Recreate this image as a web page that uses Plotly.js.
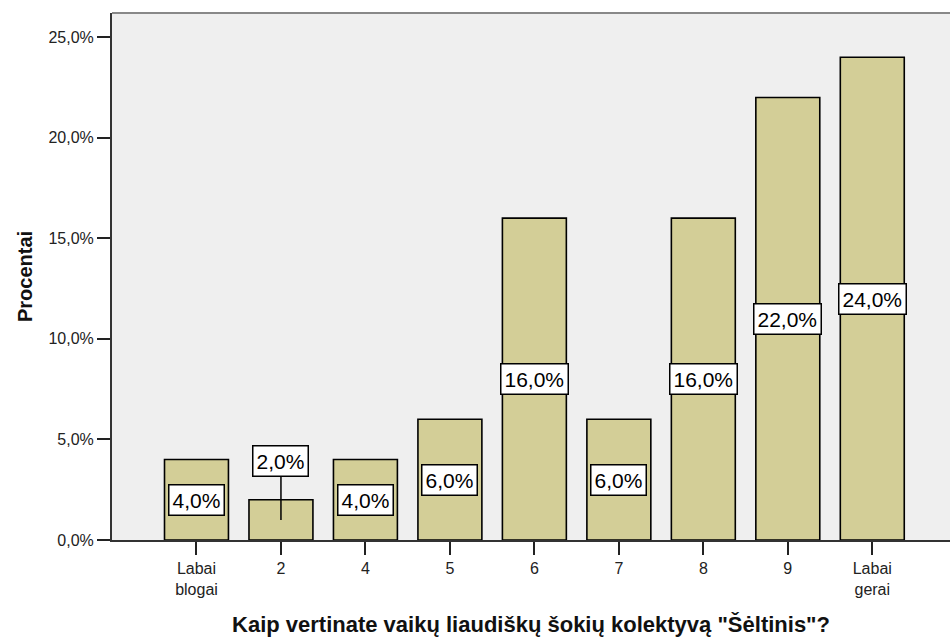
<!DOCTYPE html>
<html>
<head>
<meta charset="utf-8">
<script src="https://cdn.plot.ly/plotly-3.0.1.min.js"></script>
<style>
  body { margin: 0; background: #ffffff; }
  #chart { width: 950px; height: 637px; }
</style>
</head>
<body>
<div id="chart"></div>
<script>
const categories = ['Labai<br>blogai', '2', '4', '5', '6', '7', '8', '9', 'Labai<br>gerai'];
const percents = [4, 2, 4, 6, 16, 6, 16, 22, 24];
const yTicks = [0, 5, 10, 15, 20, 25];

const pct = v => v.toFixed(1).replace('.', ',') + '%';
const labelFont = { family: 'Arial, Liberation Sans, sans-serif', size: 21, color: '#000000' };

// value boxes sit at mid-height; short bars get the box lifted above with a leader line
const labels = percents.map((v, i) => {
  const short = v < 3;
  return {
    x: i,
    y: v / 2,
    text: pct(v),
    font: labelFont,
    bgcolor: '#ffffff',
    bordercolor: '#000000',
    borderwidth: 1.5,
    borderpad: 3,
    showarrow: short,
    arrowhead: 0,
    arrowwidth: 1.5,
    arrowcolor: '#000000',
    ax: 0,
    ay: short ? -59 : 0
  };
});

Plotly.newPlot('chart', [{
  x: categories,
  y: percents,
  type: 'bar',
  width: 0.757,
  marker: { color: '#d3ce97', line: { color: '#000000', width: 1.6 } },
  hoverinfo: 'skip'
}], {
  width: 950,
  height: 637,
  paper_bgcolor: '#ffffff',
  plot_bgcolor: '#efefef',
  font: { family: 'Arial, Liberation Sans, sans-serif', color: '#222222' },
  margin: { l: 112, r: 0, t: 13, b: 97 },
  showlegend: false,
  xaxis: {
    type: 'category',
    range: [-1, 8.92],
    showgrid: false,
    zeroline: false,
    showline: true,
    linecolor: '#333333',
    linewidth: 2,
    ticks: 'outside',
    ticklen: 13,
    tickwidth: 2,
    tickcolor: '#222222',
    tickfont: { size: 16, color: '#222222' },
    title: { text: 'Kaip vertinate vaikų liaudiškų šokių kolektyvą "Šėltinis"?', font: { size: 22, color: '#111111', weight: 'bold' }, standoff: 25 }
  },
  yaxis: {
    range: [0, 26.2],
    tickvals: yTicks,
    ticktext: yTicks.map(pct),
    showgrid: false,
    zeroline: false,
    showline: true,
    linecolor: '#333333',
    linewidth: 2,
    ticks: 'outside',
    ticklen: 13,
    tickwidth: 2,
    tickcolor: '#222222',
    tickfont: { size: 16, color: '#222222' },
    title: { text: 'Procentai', font: { size: 20, color: '#111111', weight: 'bold' }, standoff: 10 }
  },
  shapes: [{
    type: 'line', xref: 'paper', yref: 'paper', x0: 0, x1: 1, y0: 1, y1: 1,
    line: { color: '#888888', width: 2 }
  }],
  annotations: labels
}, { displayModeBar: false, staticPlot: true });
</script>
</body>
</html>
